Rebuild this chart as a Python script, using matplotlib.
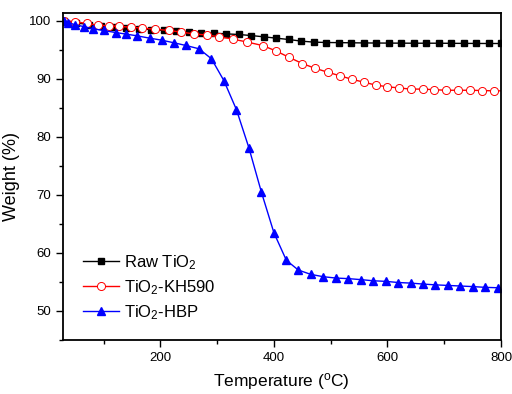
import matplotlib
matplotlib.use('Agg')
import matplotlib.pyplot as plt
from matplotlib.ticker import MultipleLocator

plt.rcParams['font.family'] = ['Liberation Sans', 'DejaVu Sans']
plt.rcParams['mathtext.fontset'] = 'custom'
plt.rcParams['mathtext.rm'] = 'Liberation Sans'
plt.rcParams['mathtext.it'] = 'Liberation Sans'

# Raw TiO2 (black squares)
raw_temp = [30, 52, 74, 96, 118, 140, 162, 184, 206, 228, 250, 272, 294, 316,
            338, 360, 382, 404, 426, 448, 470, 492, 514, 536, 558, 580, 602,
            624, 646, 668, 690, 712, 734, 756, 778, 800]
raw_weight = [100.0, 99.6, 99.3, 99.1, 98.9, 98.75, 98.6, 98.45, 98.3, 98.15,
              98.05, 97.93, 97.83, 97.71, 97.6, 97.42, 97.2, 96.97, 96.74,
              96.46, 96.29, 96.22, 96.2, 96.17, 96.15, 96.13, 96.12, 96.11,
              96.1, 96.1, 96.1, 96.08, 96.07, 96.06, 96.05, 96.05]

# TiO2-KH590 (red open circles)
kh_temp = [30, 50, 70, 90, 109, 128, 148, 168, 191, 215, 237, 260, 282, 304,
           328, 353, 380, 403, 426, 450, 472, 495, 516, 537, 558, 579, 600,
           620, 641, 662, 682, 703, 725, 746, 767, 787, 800]
kh_weight = [100.0, 99.8, 99.5, 99.2, 99.1, 99.0, 98.85, 98.7, 98.5, 98.3,
             98.0, 97.7, 97.5, 97.2, 96.8, 96.3, 95.7, 94.8, 93.7, 92.6,
             91.8, 91.1, 90.5, 89.9, 89.4, 88.9, 88.6, 88.4, 88.2, 88.2,
             88.1, 88.0, 88.0, 88.0, 87.95, 87.9, 87.9]

# TiO2-HBP (blue triangles)
hbp_temp = [30, 38, 50, 65, 82, 100, 121, 140, 159, 181, 202, 224, 245, 268,
            290, 312, 334, 356, 378, 400, 422, 443, 465, 487, 509, 531, 553,
            575, 597, 619, 641, 662, 684, 706, 728, 750, 772, 794, 800]
hbp_weight = [100.0, 99.66, 99.26, 98.97, 98.57, 98.29, 97.94, 97.66, 97.37,
              96.97, 96.63, 96.17, 95.71, 95.14, 93.42, 89.64, 84.66, 78.08,
              70.45, 63.47, 58.71, 57.05, 56.3, 55.9, 55.67, 55.57, 55.4,
              55.2, 55.1, 54.9, 54.8, 54.64, 54.5, 54.4, 54.3, 54.2, 54.07,
              54.0, 53.98]

fig = plt.figure(figsize=(5.12, 3.94), dpi=100)
ax = fig.add_axes([0.1225, 0.137, 0.856, 0.83])

ax.plot(raw_temp, raw_weight, color='black', lw=1.0, marker='s', ms=4.5,
        markevery=list(range(len(raw_temp))), label='Raw TiO$_2$')
ax.plot(kh_temp, kh_weight, color='red', lw=1.0, marker='o', ms=5.8,
        mfc='white', mec='red', mew=0.7, markevery=list(range(len(kh_temp) - 1)),
        label='TiO$_2$-KH590')
ax.plot(hbp_temp, hbp_weight, color='blue', lw=1.0, marker='^', ms=5.8,
        markevery=list(range(len(hbp_temp) - 1)), label='TiO$_2$-HBP')

ax.set_xlim(28, 800)
ax.set_ylim(45, 101.3)
ax.xaxis.set_major_locator(MultipleLocator(200))
ax.xaxis.set_minor_locator(MultipleLocator(100))
ax.yaxis.set_major_locator(MultipleLocator(10))
ax.yaxis.set_minor_locator(MultipleLocator(5))
ax.set_yticks([50, 60, 70, 80, 90, 100])
ax.tick_params(which='major', direction='out', length=5, width=1.0,
               labelsize=9.5, top=False, right=False)
ax.tick_params(which='minor', direction='out', length=3, width=1.0,
               top=False, right=False)
for s in ax.spines.values():
    s.set_linewidth(1.3)

ax.set_xlabel('Temperature ($^{\\rm o}$C)', fontsize=12.5, labelpad=5)
ax.set_ylabel('Weight (%)', fontsize=13, labelpad=6)

ax.legend(loc='lower left', bbox_to_anchor=(0.03, 0.035), frameon=False,
          fontsize=12, numpoints=1, handlelength=2.2, handletextpad=0.3,
          labelspacing=0.38, borderaxespad=0)

fig.savefig('out.png', dpi=100)
